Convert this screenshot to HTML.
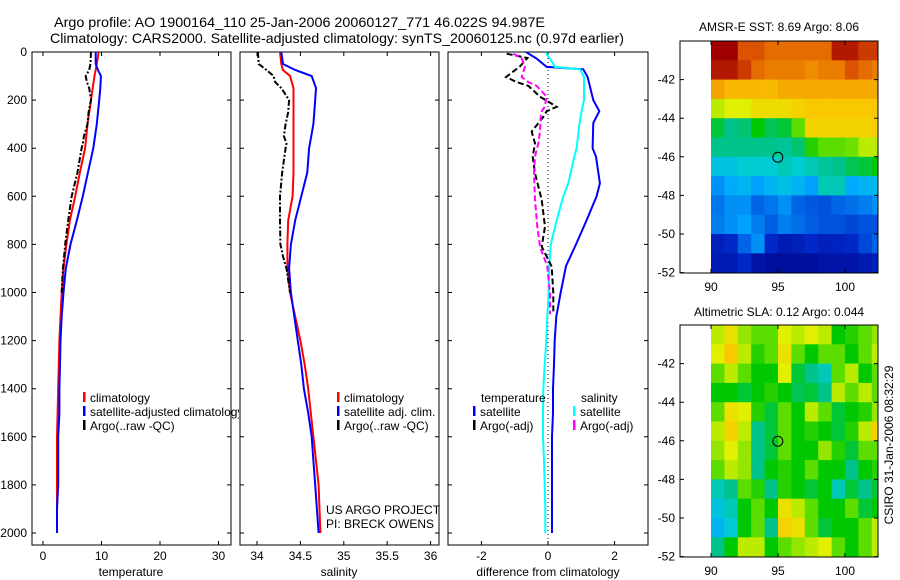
<!DOCTYPE html>
<html><head><meta charset="utf-8"><style>
html,body{margin:0;padding:0;background:#fff;}
svg{display:block;font-family:"Liberation Sans",sans-serif;}
text{font-size:12px;fill:#000;}
</style></head><body>
<svg id="fig" width="900" height="580" viewBox="0 0 900 580" xmlns="http://www.w3.org/2000/svg">
<defs>
<clipPath id="cp1"><rect x="32" y="52" width="199" height="493"/></clipPath>
<clipPath id="cp2"><rect x="240" y="52" width="199" height="493"/></clipPath>
<clipPath id="cp3"><rect x="448" y="52" width="200" height="493"/></clipPath>
<clipPath id="cpm1"><rect x="680" y="41" width="198" height="232"/></clipPath>
<clipPath id="cpm2"><rect x="680" y="325" width="198" height="232"/></clipPath>
<clipPath id="cpleg1"><rect x="0" y="0" width="239" height="580"/></clipPath>
</defs>
<text x="54" y="27" textLength="491" lengthAdjust="spacingAndGlyphs" style="font-size:14px">Argo profile: AO 1900164_110 25-Jan-2006 20060127_771 46.022S 94.987E</text>
<text x="50" y="43" textLength="574" lengthAdjust="spacingAndGlyphs" style="font-size:14px">Climatology: CARS2000. Satellite-adjusted climatology: synTS_20060125.nc (0.97d earlier)</text>
<text x="779" y="31" text-anchor="middle">AMSR-E SST: 8.69 Argo: 8.06</text>
<text x="779" y="316" text-anchor="middle">Altimetric SLA: 0.12 Argo: 0.044</text>
<text transform="translate(893,445) rotate(-90)" text-anchor="middle">CSIRO 31-Jan-2006 08:32:29</text>
<g id="g"></g>
</svg>
<script>
// ---- data ----
const depthsClim=[0,50,75,100,150,200,300,400,500,600,700,800,900,1000,1100,1200,1300,1400,1500,1600,1700,1800,1900,2000];
const tempClim=[9.5,9.2,9.0,8.8,8.5,8.2,7.6,7.2,6.3,5.5,4.6,4.0,3.5,3.2,3.0,2.8,2.7,2.6,2.5,2.4,2.4,2.4,2.4,2.4];
const tempSat=[9.0,9.0,9.4,9.9,9.8,9.6,9.2,8.6,7.7,6.8,5.8,4.7,3.9,3.5,3.2,3.0,2.9,2.8,2.8,2.6,2.6,2.6,2.4,2.4];
const salClim=[34.265,34.28,34.30,34.38,34.42,34.42,34.42,34.42,34.42,34.41,34.36,34.35,34.35,34.38,34.44,34.50,34.55,34.59,34.62,34.65,34.68,34.71,34.72,34.73];
const salSat=[34.28,34.30,34.44,34.63,34.68,34.67,34.65,34.60,34.58,34.51,34.44,34.39,34.37,34.39,34.43,34.47,34.51,34.54,34.59,34.63,34.65,34.67,34.69,34.71];
const depthsArgo=[0,50,75,100,125,150,200,250,300,350,380,400,500,600,700,800,850,900,1000];
const tempArgo=[8.2,8.1,7.9,7.3,7.5,7.9,8.2,7.8,7.6,7.0,6.8,6.6,5.9,4.9,4.3,3.8,3.6,3.4,3.2];
const salArgo=[34.01,34.02,34.11,34.19,34.21,34.28,34.37,34.36,34.33,34.31,34.34,34.33,34.29,34.265,34.265,34.27,34.30,34.34,34.38];
const depthsDiffSat=[0,28,62,72,104,200,246,295,400,435,546,600,700,800,890,1000,1100,1200,1300,1400,1500,1600,1700,1800,1900,2000];
const diffTempSat=[-0.66,-0.34,-0.04,1.06,1.19,1.36,1.54,1.36,1.34,1.44,1.56,1.46,1.16,0.84,0.54,0.38,0.25,0.2,0.18,0.15,0.15,0.12,0.12,0.12,0.12,0.12];
const diffSalSat=[-0.09,0.06,0.21,0.96,1.08,1.08,1.01,0.95,0.86,0.79,0.61,0.46,0.26,0.08,0.04,0.02,-0.02,-0.05,-0.1,-0.14,-0.15,-0.15,-0.12,-0.1,-0.08,-0.08];
const depthsDiffArgo=[7,25,60,104,125,141,186,228,246,270,331,380,435,504,615,726,809,892,1003,1090];
const diffTempArgo=[-1.24,-0.62,-0.84,-1.26,-0.94,-0.59,-0.24,0.26,-0.04,-0.14,-0.49,-0.39,-0.46,-0.39,-0.19,-0.09,-0.19,0.11,0.16,0.16];
const diffSalArgo=[-1.04,-0.80,-0.69,-0.79,-0.59,-0.34,-0.04,-0.10,-0.19,-0.22,-0.24,-0.29,-0.39,-0.42,-0.39,-0.32,-0.24,-0.02,0.06,0.06];
const depthTicks=[0,200,400,600,800,1000,1200,1400,1600,1800,2000];
const tempTicks=[0,10,20,30];
const salTicks=[34,34.5,35,35.5,36];
const salTickLabels=["34","34.5","35","35.5","36"];
const diffTicks=[-2,0,2];
const latTicks=[-42,-44,-46,-48,-50,-52];
const lonTicks=[90,95,100];
const mapLons=[90,91,92,93,94,95,96,97,98,99,100,101,102];
const mapLats=[-40,-41,-42,-43,-44,-45,-46,-47,-48,-49,-50,-51];
const sstGrid=[
[0.95,0.95,0.85,0.85,0.82,0.82,0.82,0.82,0.82,0.92,0.92,0.88,0.88],
[0.92,0.92,0.88,0.82,0.8,0.8,0.8,0.78,0.8,0.8,0.85,0.82,0.8],
[0.75,0.72,0.72,0.72,0.72,0.74,0.74,0.74,0.74,0.74,0.74,0.74,0.74],
[0.6,0.62,0.62,0.66,0.66,0.66,0.68,0.7,0.7,0.7,0.7,0.7,0.7],
[0.48,0.45,0.46,0.5,0.47,0.48,0.55,0.68,0.68,0.68,0.68,0.68,0.68],
[0.45,0.45,0.45,0.45,0.45,0.44,0.46,0.52,0.55,0.55,0.56,0.6,0.6],
[0.38,0.38,0.4,0.4,0.4,0.42,0.4,0.42,0.44,0.45,0.47,0.48,0.5],
[0.3,0.33,0.35,0.32,0.35,0.37,0.35,0.32,0.42,0.42,0.33,0.35,0.36],
[0.27,0.3,0.3,0.25,0.27,0.3,0.25,0.23,0.22,0.25,0.26,0.28,0.3],
[0.28,0.3,0.32,0.28,0.24,0.28,0.26,0.24,0.22,0.22,0.2,0.22,0.22],
[0.12,0.15,0.25,0.3,0.15,0.1,0.12,0.15,0.12,0.13,0.15,0.2,0.25],
[0.1,0.1,0.15,0.08,0.06,0.06,0.06,0.06,0.08,0.08,0.08,0.1,0.12]];
const slaGrid=[
[0.6,0.65,0.58,0.55,0.55,0.62,0.6,0.62,0.6,0.5,0.52,0.55,0.58],
[0.62,0.7,0.6,0.52,0.55,0.65,0.55,0.5,0.55,0.55,0.5,0.55,0.6],
[0.55,0.6,0.55,0.5,0.5,0.62,0.48,0.45,0.42,0.55,0.6,0.5,0.55],
[0.5,0.5,0.48,0.5,0.52,0.5,0.47,0.48,0.45,0.6,0.55,0.6,0.55],
[0.55,0.65,0.62,0.52,0.48,0.55,0.5,0.6,0.55,0.48,0.5,0.52,0.58],
[0.6,0.68,0.6,0.45,0.48,0.55,0.5,0.52,0.5,0.48,0.52,0.6,0.68],
[0.58,0.62,0.58,0.45,0.48,0.55,0.5,0.5,0.58,0.52,0.48,0.55,0.55],
[0.55,0.6,0.58,0.45,0.5,0.52,0.5,0.55,0.5,0.5,0.45,0.5,0.52],
[0.42,0.45,0.55,0.52,0.45,0.52,0.5,0.48,0.5,0.42,0.48,0.45,0.48],
[0.38,0.42,0.5,0.55,0.5,0.65,0.6,0.55,0.5,0.5,0.55,0.48,0.5],
[0.35,0.4,0.5,0.55,0.45,0.68,0.65,0.55,0.48,0.5,0.5,0.55,0.6],
[0.45,0.5,0.6,0.6,0.5,0.55,0.58,0.6,0.62,0.55,0.5,0.55,0.6]];
const argoLon=94.987, argoLat=-46.022;

// ---- scales ----
const yD=d=>52+0.2405*d;
const xT=v=>43+5.85*v;
const xS=s=>257+86.8*(s-34);
const xDf=v=>548+33.3*v;
const xLon=l=>711+13.4*(l-90);
const yLat1=l=>41+19.3*(-40-l);
const yLat2=l=>325+19.3*(-40-l);

const NS="http://www.w3.org/2000/svg";
const root=document.getElementById('g');
function mk(tag,attrs,parent){const e=document.createElementNS(NS,tag);for(const k in attrs)e.setAttribute(k,attrs[k]);(parent||root).appendChild(e);return e;}
const cmapStops=[[0,0,0,130],[0.15,0,40,200],[0.25,0,100,230],[0.33,0,170,255],[0.4,0,205,210],[0.45,0,195,140],[0.5,0,200,0],[0.56,110,225,0],[0.62,225,240,0],[0.7,250,200,0],[0.78,240,140,0],[0.86,215,75,0],[0.95,160,0,0],[1,130,0,0]];
function cmap(v){v=Math.max(0,Math.min(1,v));for(let i=1;i<cmapStops.length;i++){const a=cmapStops[i-1],b=cmapStops[i];if(v<=b[0]){const t=(v-a[0])/(b[0]-a[0]);return `rgb(${Math.round(a[1]+t*(b[1]-a[1]))},${Math.round(a[2]+t*(b[2]-a[2]))},${Math.round(a[3]+t*(b[3]-a[3]))})`;}}return 'rgb(130,0,0)';}

// panels
const panels=[{x:32,w:199,cp:'cp1',n:'temperature-panel'},{x:240,w:199,cp:'cp2',n:'salinity-panel'},{x:448,w:200,cp:'cp3',n:'difference-panel'}];
panels.forEach(p=>{
  const r=mk('rect',{x:p.x,y:52,width:p.w,height:493,fill:'#fff',stroke:'#000','stroke-width':1});
  
  
  depthTicks.forEach(d=>{
    const t=mk('path',{d:`M${p.x},${yD(d)}h4M${p.x+p.w},${yD(d)}h-4`,stroke:'#000'});
    
    
  });
});
depthTicks.forEach(d=>{
  const t=mk('text',{x:27,y:yD(d)+4,'text-anchor':'end'});t.textContent=d;
  
  
});
function xticks(vals,labels,fx,name){vals.forEach((v,i)=>{
  const t=mk('path',{d:`M${fx(v)},545v-4M${fx(v)},52v4`,stroke:'#000'});
  
  
  const l=mk('text',{x:fx(v),y:560,'text-anchor':'middle'});l.textContent=labels[i];
  
  
});}
xticks(tempTicks,tempTicks.map(String),xT,'temperature');
xticks(salTicks,salTickLabels,xS,'salinity');
xticks(diffTicks,diffTicks.map(String),xDf,'difference');
[['temperature',131,'x-axis-title-temperature'],['salinity',339,'x-axis-title-salinity'],['difference from climatology',548,'x-axis-title-difference']].forEach(a=>{
  const t=mk('text',{x:a[1],y:576,'text-anchor':'middle'});t.textContent=a[0];
  
  
});
const zl=mk('line',{x1:xDf(0),x2:xDf(0),y1:58,y2:545,stroke:'#000','stroke-dasharray':'1,3'});



function line(depths,vals,fx,color,dash,cp,name){
  const d=depths.map((z,i)=>(i?'L':'M')+fx(vals[i]).toFixed(1)+','+yD(z).toFixed(1)).join('');
  const a={d:d,fill:'none',stroke:color,'stroke-width':2,'clip-path':`url(#${cp})`};
  if(dash)a['stroke-dasharray']=dash;
  const e=mk('path',a);
  
  
}
line(depthsClim,tempClim,xT,'#f00',null,'cp1','temperature-climatology-line');
line(depthsClim,tempSat,xT,'#00f',null,'cp1','temperature-satellite-line');
line(depthsArgo,tempArgo,xT,'#000','6,2,2,2','cp1','temperature-argo-line');
line(depthsClim,salClim,xS,'#f00',null,'cp2','salinity-climatology-line');
line(depthsClim,salSat,xS,'#00f',null,'cp2','salinity-satellite-line');
line(depthsArgo,salArgo,xS,'#000','6,2,2,2','cp2','salinity-argo-line');
line(depthsDiffSat,diffTempSat,xDf,'#00f',null,'cp3','diff-temperature-satellite-line');
line(depthsDiffSat,diffSalSat,xDf,'#0ff',null,'cp3','diff-salinity-satellite-line');
line(depthsDiffArgo,diffTempArgo,xDf,'#000','6,3','cp3','diff-temperature-argo-line');
line(depthsDiffArgo,diffSalArgo,xDf,'#f0f','6,3','cp3','diff-salinity-argo-line');

function leg(x,y,color,label,name,clip){
  const g=mk('g',clip?{'clip-path':`url(#${clip})`}:{});
  
  
  if(color)mk('rect',{x:x,y:y-10,width:2.5,height:10,fill:color},g);
  const t=mk('text',{x:x+7,y:y},g);t.textContent=label;
}
leg(83,402,'#f00','climatology','legend-entry-climatology');
leg(83,416,'#00f','satellite-adjusted climatology','legend-entry-satellite-adjusted','cpleg1');
leg(83,430,'#000','Argo(..raw -QC)','legend-entry-argo');
leg(337,402,'#f00','climatology','legend-entry-sal-climatology');
leg(337,416,'#00f','satellite adj. clim.','legend-entry-sal-satellite');
leg(337,430,'#000','Argo(..raw -QC)','legend-entry-sal-argo');
leg(474,402,null,'temperature','legend-heading-temperature');
leg(473,416,'#00f','satellite','legend-entry-diff-temp-satellite');
leg(473,430,'#000','Argo(-adj)','legend-entry-diff-temp-argo');
leg(574,402,null,'salinity','legend-heading-salinity');
leg(573,416,'#0ff','satellite','legend-entry-diff-sal-satellite');
leg(573,430,'#f0f','Argo(-adj)','legend-entry-diff-sal-argo');
[['US ARGO PROJECT',514],['PI: BRECK OWENS',528]].forEach((a,i)=>{
  const t=mk('text',{x:326,y:a[1]});t.textContent=a[0];
  
  
});

function map(grid,top,yl,cp,name){
  const fr=mk('rect',{x:680,y:top,width:198,height:232,fill:'#fff',stroke:'none'});
  
  
  const g=mk('g',{'clip-path':`url(#${cp})`});
  
  
  grid.forEach((row,i)=>row.forEach((v,j)=>{
    const x0=xLon(mapLons[j]),y0=yl(mapLats[i]);
    const c=mk('rect',{x:x0,y:y0,width:xLon(mapLons[j]+1)-x0+0.3,height:yl(mapLats[i]-1)-y0+0.3,fill:cmap(v)},g);
    
    
  }));
  const b=mk('rect',{x:680,y:top,width:198,height:232,fill:'none',stroke:'#000'});
  
  
  latTicks.forEach(l=>{
    const t=mk('path',{d:`M680,${yl(l)}h4M878,${yl(l)}h-4`,stroke:'#000'});
    
    
    const tx=mk('text',{x:675,y:yl(l)+4,'text-anchor':'end'});tx.textContent=l;
    
    
  });
  lonTicks.forEach(l=>{
    const t=mk('path',{d:`M${xLon(l)},${top+232}v-4M${xLon(l)},${top}v4`,stroke:'#000'});
    
    
    const tx=mk('text',{x:xLon(l),y:top+250,'text-anchor':'middle'});tx.textContent=l;
    
    
  });
  const m=mk('circle',{cx:xLon(argoLon),cy:yl(argoLat),r:5,fill:'none',stroke:'#000'});
  
  
}
map(sstGrid,41,yLat1,'cpm1','sst-map');
map(slaGrid,325,yLat2,'cpm2','sla-map');
</script>
</body></html>
